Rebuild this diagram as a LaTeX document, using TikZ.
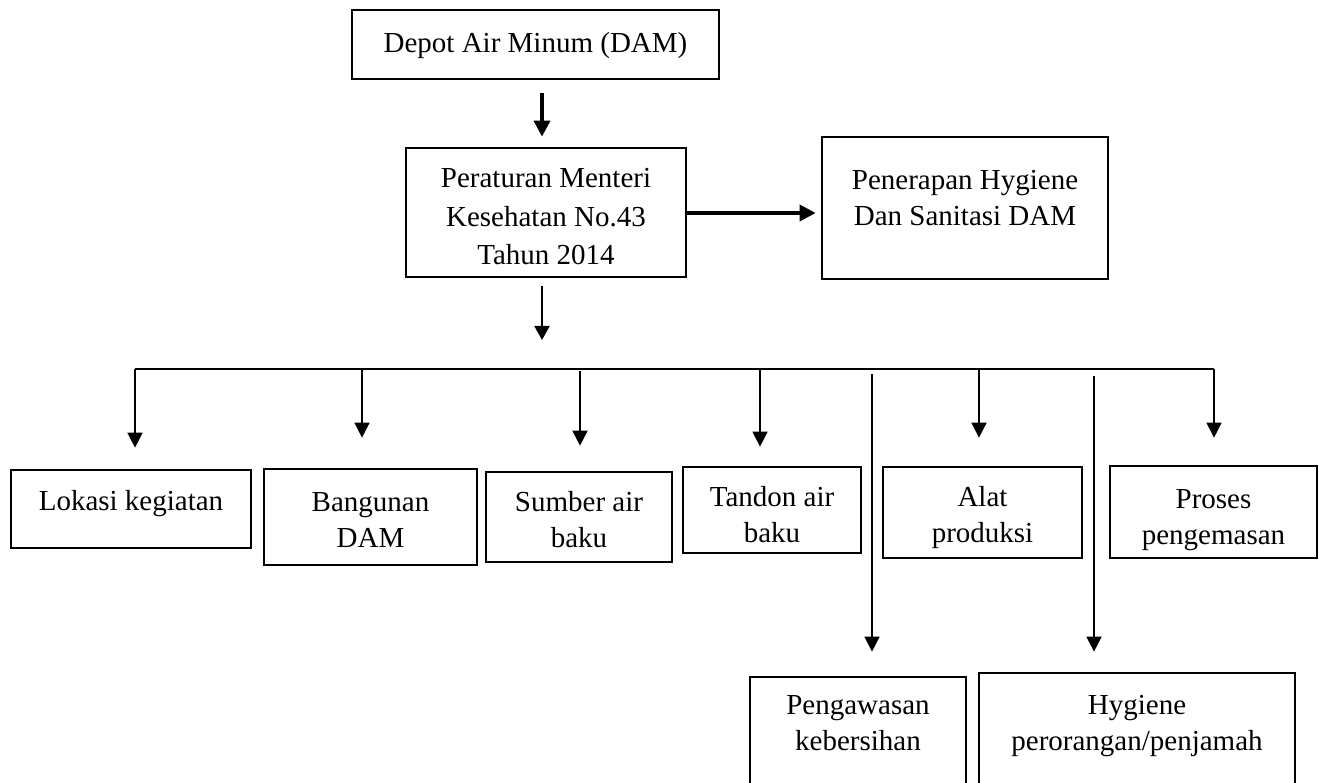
\documentclass[tikz,border=0pt]{standalone}
\usepackage{fontspec}
\setmainfont{Liberation Serif}
\usetikzlibrary{arrows.meta}
\newcommand\mkbox[5]{\node[box, minimum width={(#4-#2)*1pt}, minimum height={(#5-#3)*1pt}] (#1) at ({(#2+#4)/2},{(#3+#5)/2}) {};}
\begin{document}
\begin{tikzpicture}[x=1pt,y=-1pt,
  box/.style={draw, line width=2.7pt, inner sep=0pt},
  txt/.style={align=center, inner sep=0pt, font=\fontsize{29}{36}\selectfont},
  thk/.style={line width=3.6pt, -{Triangle[width=16pt,length=16pt]}},
  mid/.style={line width=2pt, -{Triangle[width=15pt,length=14pt]}},
  thn/.style={line width=1.5pt, -{Triangle[width=15pt,length=15pt]}},
  bus/.style={line width=1.5pt}
]
\path[use as bounding box] (0,0) rectangle (1319,783);

% boxes
\mkbox{dam}{352}{10}{719}{79}
\mkbox{per}{406}{148}{686}{277}
\mkbox{pen}{822}{137}{1108}{279}
\mkbox{lok}{11}{470}{251}{548}
\mkbox{ban}{264}{469}{477}{565}
\mkbox{sum}{486}{472}{672}{562}
\mkbox{tan}{683}{467}{861}{553}
\mkbox{ala}{883}{467}{1082}{558}
\mkbox{pro}{1110}{466}{1317}{558}
\mkbox{pgw}{750}{677}{966}{800}
\mkbox{hyg}{979}{673}{1295}{800}

% texts
\node[txt] (damT) at (535.5,45.3) {\strut Depot Air Minum (DAM)};
\node[txt, font=\fontsize{29}{38.5}\selectfont] (perT) at (546,218.5) {\strut Peraturan Menteri\\\strut Kesehatan No.43\\\strut Tahun 2014};
\node[txt] (penT) at (965,200.5) {\strut Penerapan Hygiene\\\strut Dan Sanitasi DAM};
\node[txt] (lokT) at (131,503.5) {\strut Lokasi kegiatan};
\node[txt] (banT) at (370.5,522) {\strut Bangunan\\\strut DAM};
\node[txt] (sumT) at (579,522.5) {\strut Sumber air\\\strut baku};
\node[txt] (tanT) at (772,517.5) {\strut Tandon air\\\strut baku};
\node[txt] (alaT) at (982.5,517.5) {\strut Alat\\\strut produksi};
\node[txt] (proT) at (1213.5,519) {\strut Proses\\\strut pengemasan};
\node[txt] (pgwT) at (858,725) {\strut Pengawasan\\\strut kebersihan};
\node[txt] (hygT) at (1137,725) {\strut Hygiene\\\strut perorangan/penjamah};

% connector helpers
\coordinate (a1x) at (542,0);
\coordinate (a2y) at (0,213);
\coordinate (a3e) at (542,340);
\coordinate (busL) at (135,369);
\coordinate (busR) at (1214,369);
\coordinate (bL) at (135,369);
\coordinate (bB) at (362,369);
\coordinate (bS) at (580,371);
\coordinate (bT) at (760,369);
\coordinate (bP) at (872,374);
\coordinate (bA) at (979,369);
\coordinate (bH) at (1094,376);
\coordinate (bR) at (1214,369);

% main arrows
\draw[thk, shorten <=13pt, shorten >=10pt] (dam.south -| a1x) -- (per.north -| a1x);
\draw[thk, shorten >=5pt] (per.east |- a2y) -- (pen.west |- a2y);
\draw[mid, shorten <=8pt] (per.south -| a1x) -- (a3e);

% bus
\draw[bus] (busL) -- (busR);

% branches
\draw[thn, shorten >=21pt] (bL) -- (bL |- lok.north);
\draw[thn, shorten >=30pt] (bB) -- (bB |- ban.north);
\draw[thn, shorten >=25pt] (bS) -- (bS |- sum.north);
\draw[thn, shorten >=19pt] (bT) -- (bT |- tan.north);
\draw[thn, shorten >=24pt] (bP) -- (bP |- pgw.north);
\draw[thn, shorten >=28pt] (bA) -- (bA |- ala.north);
\draw[thn, shorten >=20pt] (bH) -- (bH |- hyg.north);
\draw[thn, shorten >=27pt] (bR) -- (bR |- pro.north);
\end{tikzpicture}
\end{document}
